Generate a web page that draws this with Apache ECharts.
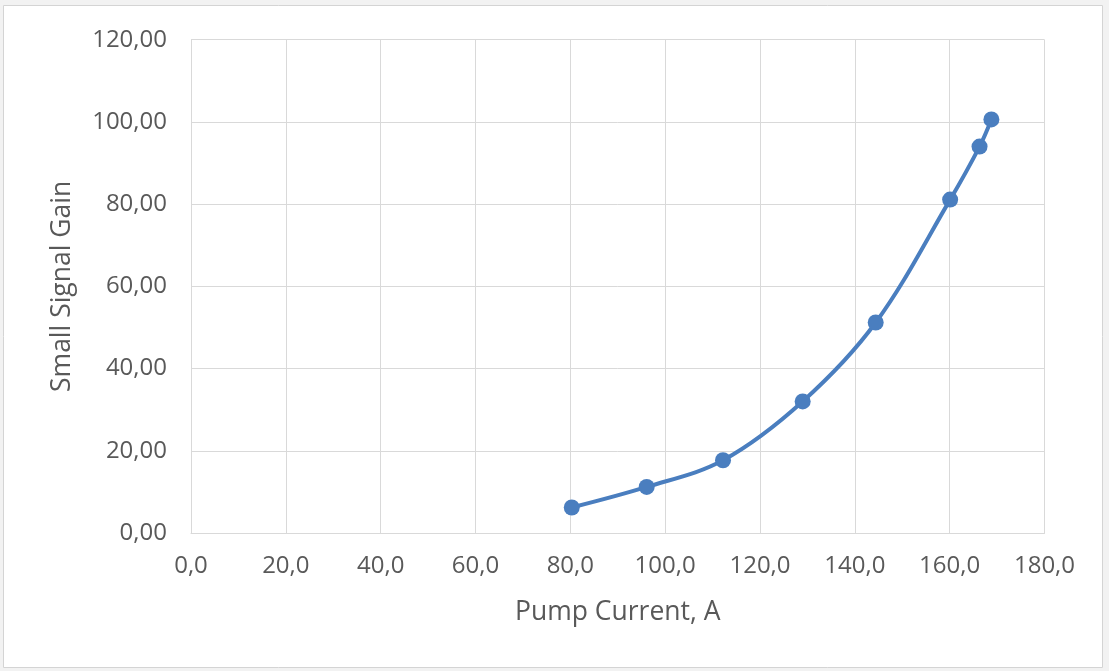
<!DOCTYPE html>
<html>
<head>
<meta charset="utf-8">
<script src="https://cdn.jsdelivr.net/npm/echarts@6/dist/echarts.min.js"></script>
<style>
html,body{margin:0;padding:0;background:#f2f2f2;}
#chart{width:1109px;height:671px;}
</style>
</head>
<body>
<div id="chart"></div>
<script>
// Data
const pumpCurrent = [80.3, 96.1, 112.2, 129.0, 144.4, 160.1, 166.3, 168.8];
const smallSignalGain = [6.2, 11.2, 17.7, 32.0, 51.2, 81.1, 94.0, 100.6];
const xAxisTitle = 'Pump Current, A';
const yAxisTitle = 'Small Signal Gain';

const points = pumpCurrent.map((x, i) => [x, smallSignalGain[i]]);
const textColor = '#595959';
const gridColor = '#d9d9d9';
const font = '"Open Sans", sans-serif';

const chart = echarts.init(document.getElementById('chart'), null, {renderer: 'canvas'});
chart.setOption({
  backgroundColor: '#f2f2f2',
  animation: false,
  graphic: [{
    type: 'rect',
    z: -10,
    silent: true,
    shape: {x: 3.5, y: 5.5, width: 1099, height: 662},
    style: {fill: '#ffffff', stroke: '#d4d4d4', lineWidth: 1}
  }],
  grid: {left: 191, right: 64.5, top: 39.7, bottom: 138, containLabel: false},
  xAxis: {
    type: 'value',
    min: 0, max: 180, interval: 20,
    name: xAxisTitle,
    nameLocation: 'middle',
    nameGap: 66,
    nameTextStyle: {color: textColor, fontSize: 26.5, fontFamily: font},
    axisLine: {show: true, lineStyle: {color: gridColor, width: 1}},
    axisTick: {show: false},
    splitLine: {show: true, lineStyle: {color: gridColor, width: 1}},
    axisLabel: {
      color: textColor, fontSize: 24, fontFamily: font, margin: 21,
      formatter: v => v.toFixed(1).replace('.', ',')
    }
  },
  yAxis: {
    type: 'value',
    min: 0, max: 120, interval: 20,
    name: yAxisTitle,
    nameLocation: 'middle',
    nameGap: 115,
    nameTextStyle: {color: textColor, fontSize: 26.5, fontFamily: font},
    axisLine: {show: true, lineStyle: {color: gridColor, width: 1}},
    axisTick: {show: false},
    splitLine: {show: true, lineStyle: {color: gridColor, width: 1}},
    axisLabel: {
      color: textColor, fontSize: 24, fontFamily: font, margin: 24,
      formatter: v => v.toFixed(2).replace('.', ',')
    }
  },
  series: [{
    type: 'line',
    data: points,
    smooth: 0.35,
    symbol: 'circle',
    symbolSize: 16,
    lineStyle: {color: '#4A7EBF', width: 4},
    itemStyle: {color: '#4A7EBF'}
  }]
});
</script>
</body>
</html>
